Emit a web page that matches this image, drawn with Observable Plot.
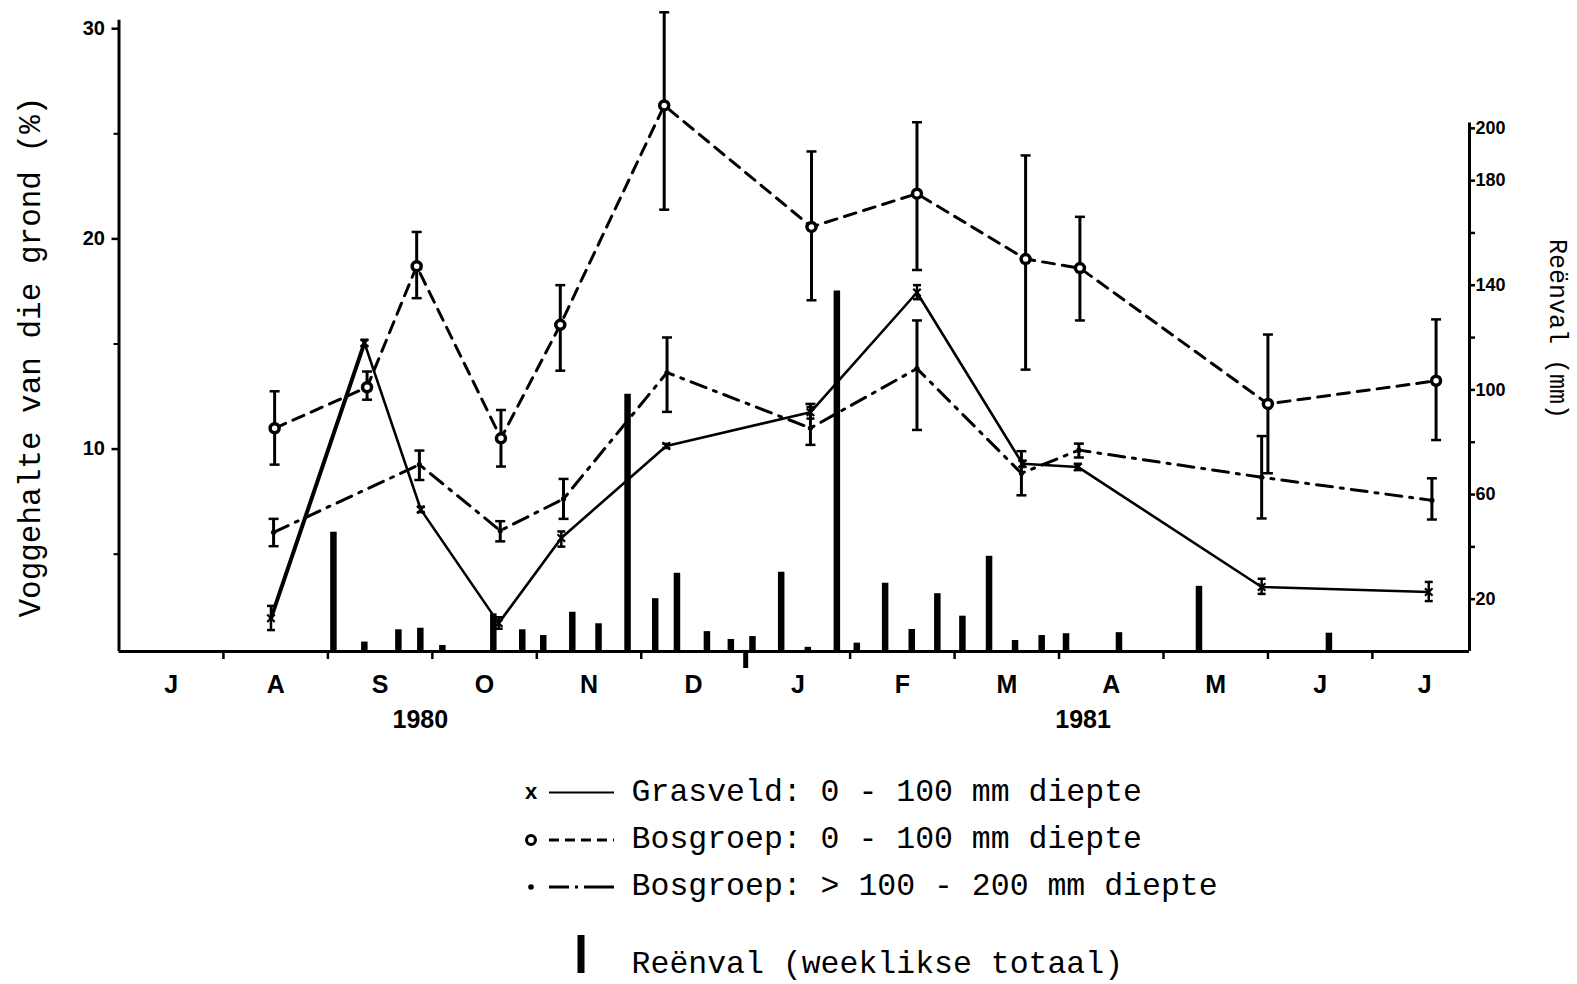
<!DOCTYPE html>
<html><head><meta charset="utf-8">
<script src="https://cdn.jsdelivr.net/npm/d3@7"></script>
<script src="https://cdn.jsdelivr.net/npm/@observablehq/plot@0.6"></script>
<style>
body{margin:0;background:#fff;}
#wrap{width:1577px;position:relative;}
svg{display:block;}
</style></head><body><div id="wrap"></div>
<script>
// ---- axis / tick labels ----
const months = ["J","A","S","O","N","D","J","F","M","A","M","J","J"];
const monthTicks = [1,2,3,4,5,7,8,9,10,11,12];
const heavyTick = [6];
const years = ["1980","1981"];
const yearPos = [2.885, 9.23];
const leftTicks = [10,20,30];
const leftMinor = [5,15,25];
const rainTicks = [20,40,60,80,100,120,140,160,180,200];
const rainLabeled = [20,60,100,140,180,200];

// ---- Grasveld 0-100 mm (x in months from 1 Jul 1980) ----
const grasK  = [1.455, 2.35, 2.89, 3.635, 4.235, 5.24, 6.62, 7.64, 8.65, 9.18, 10.94, 12.54];
const grasV  = [1.95, 15.05, 7.12, 1.72, 5.77, 10.15, 11.75, 17.45, 9.3, 9.15, 3.44, 3.2];
const grasLo = [1.39, 14.9, 7.0, 1.45, 5.36, 10.05, 11.45, 17.13, 9.15, 9.0, 3.11, 2.77];
const grasHi = [2.54, 15.2, 7.25, 2.0, 6.08, 10.25, 12.0, 17.8, 9.45, 9.3, 3.83, 3.68];

// ---- Bosgroep 0-100 mm ----
const bos1K  = [1.49, 2.375, 2.85, 3.657, 4.225, 5.22, 6.63, 7.64, 8.68, 9.20, 11.0, 12.61];
const bos1V  = [10.99, 12.94, 18.7, 10.51, 15.91, 26.35, 20.57, 22.15, 19.04, 18.61, 12.15, 13.25];
const bos1Lo = [9.26, 12.35, 17.18, 9.17, 13.73, 21.39, 17.08, 18.52, 13.78, 16.12, 8.85, 10.43];
const bos1Hi = [12.75, 13.69, 20.33, 11.86, 17.8, 30.78, 24.16, 25.55, 23.97, 21.05, 15.45, 16.17];

// ---- Bosgroep >100-200 mm ----
const bos2K  = [1.48, 2.876, 3.65, 4.256, 5.247, 6.62, 7.64, 8.64, 9.19, 10.94, 12.57];
const bos2V  = [6.04, 9.26, 6.12, 7.63, 13.64, 11.0, 13.83, 8.85, 9.95, 8.66, 7.56];
const bos2Lo = [5.38, 8.53, 5.61, 6.68, 11.77, 10.2, 10.91, 7.8, 9.6, 6.70, 6.65];
const bos2Hi = [6.68, 9.93, 6.57, 8.58, 15.31, 12.15, 16.12, 9.9, 10.26, 10.62, 8.61];

// ---- Weekly rainfall (mm) ----
const rainK  = [2.053, 2.349, 2.675, 2.885, 3.096, 3.584, 3.861, 4.062, 4.340, 4.591, 4.869, 5.134, 5.342, 5.629, 5.858, 6.065, 6.340, 6.595, 6.873, 7.064, 7.335, 7.590, 7.835, 8.075, 8.330, 8.579, 8.834, 9.067, 9.574, 10.340, 11.584];
const rainMM = [45.6, 3.6, 8.3, 8.9, 2.3, 14.4, 8.3, 6.1, 15.0, 10.6, 98.3, 20.2, 29.9, 7.6, 4.6, 5.7, 30.3, 1.6, 137.8, 3.2, 26.1, 8.4, 22.1, 13.5, 36.4, 4.2, 6.1, 6.8, 7.2, 24.9, 7.0];

// ---- twin-axis relation ----
const Y0 = 0.37;          // left-axis value at the baseline
const RAIN_K = 0.12445;   // left-axis units per mm rain
const toY = mm => Y0 + mm * RAIN_K;
const fromY = v => Math.round((v - Y0) / RAIN_K);
const X_END = 12.93;

const mk = (K, V, Lo, Hi) => K.map((k, i) => ({k, v: V[i], lo: Lo[i], hi: Hi[i]}));
const gras = mk(grasK, grasV, grasLo, grasHi);
const bos1 = mk(bos1K, bos1V, bos1Lo, bos1Hi);
const bos2 = mk(bos2K, bos2V, bos2Lo, bos2Hi);
const rain = rainK.map((k, i) => ({k, mm: rainMM[i]}));
const monthData = months.map((m, i) => ({m, k: i + 0.5}));
const yearData = years.map((y, i) => ({y, k: yearPos[i]}));

const hbar = {draw(ctx, size){ const w = Math.sqrt(size / Math.PI); ctx.moveTo(-w, 0); ctx.lineTo(w, 0); }};

const SANS = "'Liberation Sans',Arial,Helvetica,sans-serif";
const MONO = "'Liberation Mono','DejaVu Sans Mono',monospace";

const caps = (data, r, sw) => [
  Plot.dot(data, {x: "k", y: "lo", symbol: hbar, r, stroke: "black", strokeWidth: sw}),
  Plot.dot(data, {x: "k", y: "hi", symbol: hbar, r, stroke: "black", strokeWidth: sw})
];

const chart = Plot.plot({
  width: 1577,
  height: 750,
  marginLeft: 118.5,
  marginRight: 108,
  marginTop: 28.2,
  marginBottom: 99,
  style: {fontFamily: SANS, background: "white", color: "black", overflow: "visible"},
  x: {type: "linear", domain: [0, X_END], axis: null},
  y: {type: "linear", domain: [Y0, 30], axis: null},
  marks: [
    // rainfall bars
    Plot.ruleX(rain, {x: "k", y1: Y0, y2: d => toY(d.mm), stroke: "black", strokeWidth: 6.5}),
    // error bars
    Plot.ruleX(bos1, {x: "k", y1: "lo", y2: "hi", stroke: "black", strokeWidth: 3}),
    ...caps(bos1, 5, 2.5),
    Plot.ruleX(bos2, {x: "k", y1: "lo", y2: "hi", stroke: "black", strokeWidth: 3}),
    ...caps(bos2, 5, 2.5),
    Plot.ruleX(gras, {x: "k", y1: "lo", y2: "hi", stroke: "black", strokeWidth: 2.5}),
    ...caps(gras, 4, 2.5),
    // lines
    Plot.line(gras, {x: "k", y: "v", stroke: "black", strokeWidth: 2.6}),
    Plot.line(gras.slice(0, 2), {x: "k", y: "v", stroke: "black", strokeWidth: 4}),
    Plot.line(bos1, {x: "k", y: "v", stroke: "black", strokeWidth: 3, strokeDasharray: "12,8"}),
    Plot.line(bos2, {x: "k", y: "v", stroke: "black", strokeWidth: 3, strokeDasharray: "16,8,3,8"}),
    // markers
    Plot.dot(gras, {x: "k", y: "v", symbol: "times", r: 3.5, stroke: "black", strokeWidth: 2.2}),
    Plot.dot(bos1, {x: "k", y: "v", r: 4.5, fill: "white", stroke: "black", strokeWidth: 3.5}),
    Plot.dot(bos2, {x: "k", y: "v", r: 2.6, fill: "black"}),
    // frame lines
    Plot.ruleX([0], {y1: Y0, y2: 30.4, stroke: "black", strokeWidth: 3}),
    Plot.ruleX([X_END], {y1: Y0, y2: toY(202), stroke: "black", strokeWidth: 3}),
    Plot.ruleY([Y0], {x1: 0, x2: X_END, stroke: "black", strokeWidth: 3}),
    // left axis
    Plot.axisY({anchor: "left", ticks: leftTicks, tickSize: 7, tickPadding: 7, strokeWidth: 2.5,
      tickFormat: d => String(d), fontSize: 20, fontWeight: "bold", fontFamily: SANS, label: null}),
    Plot.axisY({anchor: "left", ticks: leftMinor, tickSize: 5, strokeWidth: 2, tickFormat: () => "", label: null}),
    // right axis (rainfall)
    Plot.axisY({anchor: "right", ticks: rainTicks.map(toY), tickSize: 5, tickPadding: 1, strokeWidth: 2.5,
      tickFormat: d => rainLabeled.includes(fromY(d)) ? String(fromY(d)) : "",
      fontSize: 18, fontWeight: "bold", fontFamily: SANS, label: null}),
    // bottom axis ticks
    Plot.axisX({anchor: "bottom", ticks: monthTicks, tickSize: 8, strokeWidth: 2.5, tickFormat: () => "", label: null}),
    Plot.axisX({anchor: "bottom", ticks: heavyTick, tickSize: 17, strokeWidth: 5, tickFormat: () => "", label: null}),
    // month & year labels
    Plot.text(monthData, {x: "k", y: Y0, dy: 33, text: "m", fontSize: 25, fontWeight: "bold", fontFamily: SANS}),
    Plot.text(yearData, {x: "k", y: Y0, dy: 68, text: "y", fontSize: 25, fontWeight: "bold", fontFamily: SANS}),
    // axis titles
    Plot.text(["Voggehalte van die grond (%)"], {frameAnchor: "left", textAnchor: "middle", dx: -89, dy: 17, rotate: -90,
      fontSize: 31, fontFamily: MONO, fontWeight: "normal"}),
    Plot.text(["Reënval (mm)"], {frameAnchor: "right", textAnchor: "middle", dx: 88, dy: -11, rotate: 90,
      fontSize: 25, fontFamily: MONO, fontWeight: "normal"})
  ]
});
document.getElementById("wrap").appendChild(chart);

// ---- legend (below the chart) ----
const legendItems = [
  {label: "Grasveld: 0 - 100 mm diepte", kind: "gras"},
  {label: "Bosgroep: 0 - 100 mm diepte", kind: "bos1"},
  {label: "Bosgroep: > 100 - 200 mm diepte", kind: "bos2"},
  {label: "Reënval (weeklikse totaal)", kind: "rain"}
];
const rowY = [42.5, 90, 137, 215];
const NS = "http://www.w3.org/2000/svg";
const lg = document.createElementNS(NS, "svg");
lg.setAttribute("width", 1577); lg.setAttribute("height", 234);
const el = (tag, attrs) => { const e = document.createElementNS(NS, tag); for (const a in attrs) e.setAttribute(a, attrs[a]); lg.appendChild(e); return e; };
legendItems.forEach((it, i) => {
  const y = rowY[i];
  if (it.kind === "gras") {
    el("text", {x: 531, y: y + 1, "text-anchor": "middle", "dominant-baseline": "middle", "font-family": SANS, "font-weight": "bold", "font-size": 22}).textContent = "x";
    el("line", {x1: 549, x2: 614, y1: y, y2: y, stroke: "black", "stroke-width": 2});
  } else if (it.kind === "bos1") {
    el("circle", {cx: 531, cy: y, r: 4.5, fill: "white", stroke: "black", "stroke-width": 3});
    el("line", {x1: 549, x2: 614, y1: y, y2: y, stroke: "black", "stroke-width": 3, "stroke-dasharray": "10,6"});
  } else if (it.kind === "bos2") {
    el("circle", {cx: 531, cy: y, r: 2.8, fill: "black"});
    el("line", {x1: 549, x2: 614, y1: y, y2: y, stroke: "black", "stroke-width": 3, "stroke-dasharray": "20,6,3,6,30"});
  } else {
    el("line", {x1: 581, x2: 581, y1: y - 30, y2: y + 8, stroke: "black", "stroke-width": 7});
  }
  el("text", {x: 631.6, y: y, "dominant-baseline": "middle", "font-family": MONO, "font-size": 31.5}).textContent = it.label;
});
document.getElementById("wrap").appendChild(lg);
</script>
</body></html>
